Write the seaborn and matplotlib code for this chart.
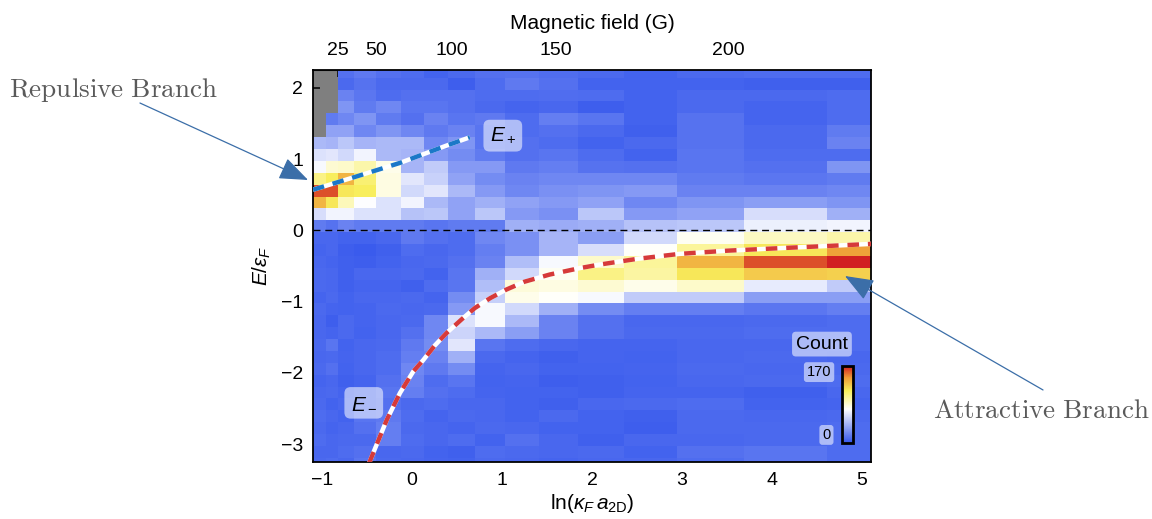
import numpy as np
import pandas as pd
import seaborn as sns
import matplotlib.pyplot as plt
from matplotlib.colors import LinearSegmentedColormap

# histogram bins: columns in ln(kF a2D) (one per field setting), rows in E/eF
x_edges = [-1.12, -0.960, -0.819, -0.643, -0.401, -0.120, 0.133, 0.402, 0.696,
           1.037, 1.411, 1.841, 2.352, 2.946, 3.690, 4.606, 5.12]
row_step = 1 / 6
row_offset = -0.025
y_edges = row_offset + row_step * np.arange(-20, 15)

# counts per cell, top row first; nan = no data (grey)
nan = np.nan
counts = [
    [nan, nan, 12, 16, 12, 10, 6, 9, 12, 13, 11, 9, 6, 9, 10, 10],
    [nan, nan, 9, 13, 9, 9, 9, 4, 10, 16, 12, 6, 6, 6, 5, 5],
    [nan, nan, 20, 15, 10, 12, 12, 12, 10, 10, 11, 10, 6, 9, 9, 10],
    [nan, nan, 28, 17, 22, 14, 14, 12, 9, 7, 8, 4, 6, 9, 7, 10],
    [nan, 17, 22, 28, 17, 12, 20, 14, 16, 10, 18, 14, 6, 13, 7, 10],
    [nan, 34, 34, 22, 28, 22, 16, 20, 14, 10, 12, 9, 5, 13, 9, 17],
    [44, 42, 50, 42, 44, 44, 22, 28, 14, 12, 10, 6, 9, 13, 9, 20],
    [62, 64, 58, 70, 44, 42, 30, 24, 17, 12, 14, 10, 6, 14, 10, 10],
    [72, 86, 88, 96, 80, 42, 52, 30, 30, 16, 18, 13, 12, 14, 12, 28],
    [105, 115, 135, 110, 82, 64, 55, 34, 24, 20, 22, 22, 22, 17, 15, 17],
    [160, 160, 118, 115, 82, 58, 64, 44, 30, 22, 26, 28, 30, 20, 20, 22],
    [135, 118, 92, 74, 62, 70, 44, 34, 40, 34, 30, 34, 22, 28, 32, 28],
    [60, 70, 70, 62, 62, 48, 50, 34, 50, 30, 26, 50, 30, 34, 60, 40],
    [17, 13, 20, 17, 17, 17, 14, 17, 17, 40, 38, 40, 48, 50, 68, 70],
    [8, 8, 6, 6, 8, 16, 12, 10, 22, 26, 42, 32, 58, 78, 90, 96],
    [7, 8, 4, 3, 5, 10, 8, 10, 18, 26, 42, 60, 76, 100, 118, 142],
    [8, 7, 5, 4, 6, 8, 9, 12, 20, 46, 72, 88, 100, 135, 160, 170],
    [9, 8, 5, 8, 8, 9, 6, 14, 40, 58, 78, 105, 98, 118, 128, 126],
    [9, 8, 5, 7, 7, 5, 10, 14, 46, 84, 82, 86, 80, 88, 66, 52],
    [7, 9, 6, 8, 8, 9, 7, 24, 54, 80, 76, 72, 52, 52, 32, 32],
    [9, 7, 6, 7, 9, 8, 9, 30, 72, 58, 40, 24, 18, 18, 15, 18],
    [8, 4, 9, 7, 8, 9, 22, 62, 72, 44, 20, 12, 8, 8, 9, 10],
    [8, 7, 9, 6, 8, 12, 22, 56, 44, 32, 20, 12, 9, 9, 10, 10],
    [9, 14, 6, 8, 9, 16, 24, 64, 14, 10, 8, 7, 7, 8, 8, 10],
    [8, 9, 7, 8, 10, 18, 20, 40, 9, 7, 5, 7, 6, 8, 9, 8],
    [9, 12, 6, 8, 10, 22, 16, 24, 7, 8, 6, 6, 7, 9, 8, 9],
    [7, 8, 5, 7, 12, 20, 10, 14, 6, 7, 4, 5, 6, 8, 9, 10],
    [8, 9, 7, 9, 14, 18, 12, 10, 7, 6, 6, 5, 7, 7, 5, 8],
    [9, 6, 8, 9, 12, 9, 10, 8, 8, 6, 5, 8, 9, 10, 6, 7],
    [10, 8, 6, 14, 16, 10, 7, 9, 8, 6, 9, 6, 5, 9, 8, 9],
    [9, 7, 8, 12, 18, 9, 8, 7, 9, 8, 6, 6, 4, 9, 9, 10],
    [10, 8, 9, 9, 18, 10, 8, 10, 6, 12, 8, 5, 8, 8, 9, 10],
    [8, 8, 10, 12, 8, 9, 6, 5, 10, 9, 8, 9, 6, 12, 14, 10],
    [9, 10, 8, 14, 9, 8, 7, 6, 9, 8, 7, 8, 8, 10, 14, 10],
]

# top axis: magnetic field values and where they fall on ln(kF a2D)
field_labels = [25, 50, 100, 150, 200]
field_pos = [-0.819, -0.401, 0.443, 1.600, 3.509]

# theory curves
e_plus_x = [-1.10, -0.613, -0.133, 0.384, 0.643]
e_plus_y = [0.57, 0.758, 0.947, 1.19, 1.306]
e_minus_x = [-0.475, -0.281, -0.133, 0.014, 0.125, 0.25, 0.384, 0.55, 0.698,
             0.87, 1.049, 1.25, 1.529, 1.862, 2.083, 2.5, 2.97, 3.5, 4.08, 4.6, 5.1]
e_minus_y = [-3.26, -2.66, -2.28, -1.98, -1.82, -1.62, -1.44, -1.25, -1.09,
             -0.95, -0.83, -0.72, -0.62, -0.53, -0.48, -0.40, -0.33, -0.285, -0.25, -0.22, -0.19]

sns.set_style("ticks")
plt.rcParams['font.family'] = ['Liberation Sans', 'DejaVu Sans']
plt.rcParams['mathtext.fontset'] = 'custom'
plt.rcParams['mathtext.rm'] = 'Liberation Sans'
plt.rcParams['mathtext.it'] = 'Liberation Sans:italic'
plt.rcParams['axes.unicode_minus'] = True
for key in ['text.color', 'axes.labelcolor', 'xtick.color', 'ytick.color']:
    plt.rcParams[key] = 'black'

cmap = LinearSegmentedColormap.from_list(
    "count", [(0, '#3355ec'), (0.44, '#ffffff'), (0.68, '#f8ee5c'),
              (0.85, '#ee9a36'), (1.0, '#d11f22')])

x_edges = np.array(x_edges)
xc = (x_edges[:-1] + x_edges[1:]) / 2
yc = (y_edges[:-1] + y_edges[1:]) / 2
grid = np.array(counts, dtype=float)[::-1]
X, Y = np.meshgrid(xc, yc)
df = pd.DataFrame({'x': X.ravel(), 'y': Y.ravel(), 'count': grid.ravel()}).dropna()

fig = plt.figure(figsize=(11.52, 5.19), dpi=100)
ax = fig.add_axes([0.2717, 0.1098, 0.4844, 0.7553])
cax = fig.add_axes([0.7309, 0.1464, 0.0095, 0.1484])
ax.set_facecolor('#7f7f7f')

sns.histplot(data=df, x='x', y='y', weights='count', bins=(x_edges, y_edges),
             cmap=cmap, vmin=0, vmax=170, cbar=True, cbar_ax=cax, ax=ax)

ax.axhline(0, color='black', lw=1.0, ls=(0, (5, 3.5)), zorder=3)

# theory curves: dashed on top of a white line
sns.lineplot(x=e_plus_x, y=e_plus_y, ax=ax, color='white', lw=3.2,
             sort=False, estimator=None, solid_capstyle='butt', zorder=4)
sns.lineplot(x=e_plus_x, y=e_plus_y, ax=ax, color='#1b78c8', lw=3.2,
             sort=False, estimator=None, ls=(0, (2.6, 2.0)), zorder=5)
sns.lineplot(x=e_minus_x, y=e_minus_y, ax=ax, color='white', lw=3.2,
             sort=False, estimator=None, solid_capstyle='butt', zorder=4)
sns.lineplot(x=e_minus_x, y=e_minus_y, ax=ax, color='#d63a3a', lw=3.2,
             sort=False, estimator=None, ls=(0, (2.6, 2.0)), zorder=5)

box = dict(boxstyle='round,pad=0.3', fc='white', ec='none', alpha=0.55)
ax.text(1.009, 1.329, r'$E_+$', fontsize=15, ha='center', va='center', bbox=box, zorder=6)
ax.text(-0.536, -2.42, r'$E_-$', fontsize=15, ha='center', va='center', bbox=box, zorder=6)

ax.set_xlim(-1.1, 5.1)
ax.set_ylim(-3.25, 2.25)
ax.set_xticks([-1, 0, 1, 2, 3, 4, 5])
ax.set_yticks([-3, -2, -1, 0, 1, 2])
ax.tick_params(direction='in', length=5, width=1.1, labelsize=14, right=True,
               top=False, pad=7, color='black')
for s in ax.spines.values():
    s.set_visible(True)
    s.set_linewidth(1.3)
    s.set_color('black')
ax.set_xlabel(r'$\mathrm{ln}(\kappa_F\, a_{\mathrm{2D}})$', fontsize=15, labelpad=2)
ax.set_ylabel(r'$E/\varepsilon_F$', fontsize=15, labelpad=6)

top = ax.secondary_xaxis('top')
top.set_xticks(field_pos)
top.set_xticklabels([str(v) for v in field_labels])
top.tick_params(direction='in', length=5, width=1.1, labelsize=14, pad=8)
top.set_xlabel('Magnetic field (G)', fontsize=15, labelpad=9)

# colorbar styling
cbar = ax.collections[0].colorbar
cbar.set_ticks([])
cbar.outline.set_linewidth(2)
cbar.outline.set_edgecolor('black')
lbox = dict(boxstyle='round,pad=0.2', fc='white', ec='none', alpha=0.55)
fig.text(0.7135, 0.337, 'Count', fontsize=14, ha='center', va='center', bbox=lbox)
fig.text(0.711, 0.283, '170', fontsize=10.5, ha='center', va='center', bbox=lbox)
fig.text(0.7174, 0.162, '0', fontsize=10.5, ha='center', va='center', bbox=lbox)

# branch annotations
arrow = dict(arrowstyle='-|>,head_length=1.8,head_width=0.7', color='#3b6ea8',
             lw=0.9, shrinkA=0, shrinkB=0)
fig.text(0.0981, 0.8266, r'$\mathrm{Repulsive\ Branch}$', math_fontfamily='cm',
         fontsize=19.5, color='#5a5a5a', ha='center', va='center')
ax.annotate('', xy=(0.2674, 0.6532), xytext=(0.1215, 0.8015),
            xycoords='figure fraction', textcoords='figure fraction', arrowprops=arrow)
fig.text(0.9036, 0.2081, r'$\mathrm{Attractive\ Branch}$', math_fontfamily='cm',
         fontsize=19.5, color='#5a5a5a', ha='center', va='center')
ax.annotate('', xy=(0.7335, 0.4682), xytext=(0.9054, 0.2486),
            xycoords='figure fraction', textcoords='figure fraction', arrowprops=arrow)

fig.savefig('out.png', dpi=100)
